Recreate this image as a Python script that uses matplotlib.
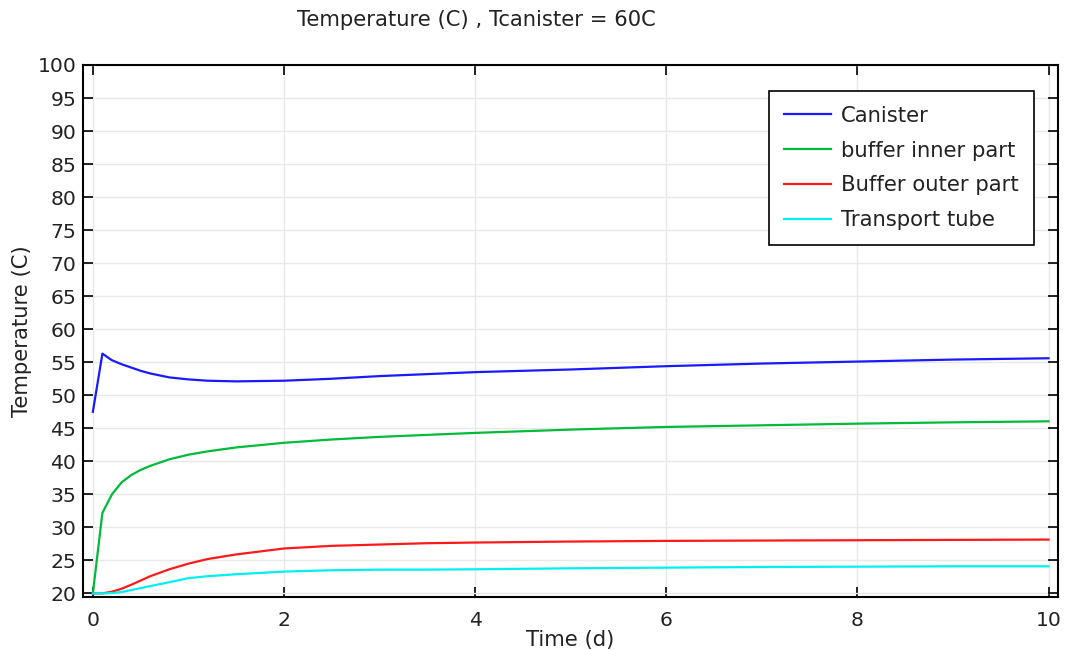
import matplotlib
matplotlib.use("Agg")
import matplotlib.pyplot as plt

time_d = [0, 0.1, 0.2, 0.3, 0.4, 0.5, 0.6, 0.8, 1.0, 1.2, 1.5, 2, 2.5, 3, 3.5, 4, 5, 6, 7, 8, 9, 10]
canister = [47.5, 56.3, 55.3, 54.7, 54.2, 53.7, 53.3, 52.7, 52.4, 52.2, 52.1, 52.2, 52.5, 52.9, 53.2, 53.5,
            53.9, 54.4, 54.8, 55.1, 55.4, 55.6]
buffer_inner = [20.0, 32.2, 35.0, 36.8, 37.9, 38.7, 39.3, 40.3, 41.0, 41.5, 42.1, 42.8, 43.3, 43.7, 44.0, 44.3,
                44.8, 45.2, 45.45, 45.7, 45.9, 46.05]
buffer_outer = [20.0, 20.0, 20.25, 20.7, 21.3, 21.95, 22.6, 23.65, 24.5, 25.2, 25.9, 26.8, 27.2, 27.4, 27.6, 27.7,
                27.85, 27.95, 28.0, 28.05, 28.1, 28.15]
transport_tube = [20.0, 20.0, 20.05, 20.2, 20.5, 20.8, 21.1, 21.7, 22.3, 22.6, 22.9, 23.3, 23.5, 23.6, 23.6, 23.65,
                  23.8, 23.9, 24.0, 24.05, 24.1, 24.1]

series_labels = ["Canister", "buffer inner part", "Buffer outer part", "Transport tube"]
series_colors = ["#1a1aff", "#00bb3a", "#ff1a1a", "#00f0f0"]

x_ticks = [0, 2, 4, 6, 8, 10]
y_ticks = list(range(20, 101, 5))

plt.rcParams['font.family'] = ['DejaVu Sans']

fig = plt.figure(figsize=(10.68, 6.5), dpi=100)
ax = fig.add_axes([0.078, 0.082, 0.9127, 0.818])

for ys, lab, col in zip([canister, buffer_inner, buffer_outer, transport_tube], series_labels, series_colors):
    ax.plot(time_d, ys, color=col, lw=1.6, label=lab)

ax.set_xlim(-0.1, 10.1)
ax.set_ylim(19.5, 100)
ax.set_xticks(x_ticks)
ax.set_yticks(y_ticks)
ax.grid(True, color="#e8e8e8", lw=1)
ax.set_axisbelow(True)
ax.tick_params(direction="in", length=7, width=1.2, top=True, right=True, labelsize=14.7, colors="black",
               labelcolor="#222222", pad=5)
ax.tick_params(axis="x", pad=10)
for s in ax.spines.values():
    s.set_linewidth(1.5)
    s.set_color("black")

ax.set_xlabel("Time (d)", fontsize=15.2, color="#222222", labelpad=0)
ax.set_ylabel("Temperature (C)", fontsize=15.2, color="#222222", labelpad=4)

fig.text(476 / 1068, 1 - 20 / 650, "Temperature (C) , Tcanister = 60C", ha="center", va="center",
         fontsize=15.2, color="#222222")

leg = ax.legend(loc="upper right", bbox_to_anchor=(0.975, 0.9517), borderaxespad=0, fontsize=15.2,
                frameon=True, fancybox=False, shadow=False, handlelength=2.2, handletextpad=0.47,
                borderpad=0.72, labelspacing=0.7, framealpha=1)
leg.get_frame().set_edgecolor("black")
leg.get_frame().set_linewidth(1.2)
for t in leg.get_texts():
    t.set_color("#222222")

fig.savefig("out.png", dpi=100)
